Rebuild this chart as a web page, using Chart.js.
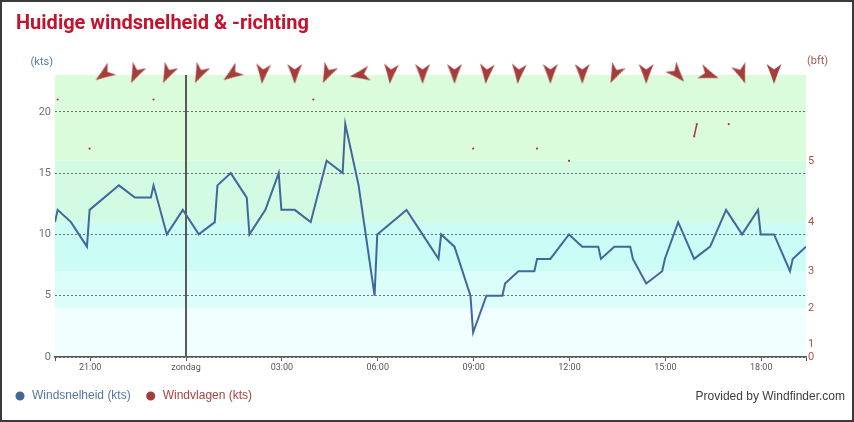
<!DOCTYPE html>
<html>
<head>
<meta charset="utf-8">
<script src="https://cdn.jsdelivr.net/npm/chart.js@4"></script>
<style>
  html, body { margin: 0; padding: 0; background: #fff; }
  #wrap { position: relative; width: 854px; height: 422px; overflow: hidden; }
  #frame { position: absolute; left: 0; top: 0; width: 854px; height: 422px; border: 2px solid #3a3a3a; box-sizing: border-box; pointer-events: none; }
  #title { position: absolute; left: 16px; top: 12px; font: bold 20px/20px Roboto, sans-serif; color: #c2132f; white-space: nowrap; }
  #credit { position: absolute; right: 9px; top: 389px; font: 12px/14px "Liberation Sans", Arial, sans-serif; color: #3d3d3d; white-space: nowrap; }
  canvas { position: absolute; left: 0; top: 0; }
</style>
</head>
<body>
<div id="wrap">
  <canvas id="windChart" width="854" height="422"></canvas>
  <div id="title">Huidige windsnelheid &amp; -richting</div>
  <div id="credit">Provided by Windfinder.com</div>
  <div id="frame"></div>
</div>
<script>
// windsnelheid (kts), zaterdagavond t/m zondag
const speedTimes = ['19:54','19:59','20:24','20:54','20:59','21:54','22:24','22:54','22:59','23:24','23:54',
  '00:24','00:54','00:59','01:24','01:54','01:59','02:29','02:54','02:59','03:24','03:54','04:24','04:54','04:59',
  '05:24','05:54','05:59','06:54','07:24','07:54','07:59','08:24','08:54','08:59','09:24','09:54','09:59',
  '10:24','10:54','10:59','11:24','11:59','12:24','12:54','12:59','13:24','13:54','13:59','14:24','14:54','14:59',
  '15:24','15:54','16:24','16:54','17:24','17:54','17:59','18:24','18:54','18:59','19:24'];
const speedKts = [11,12,11,9,12,14,13,13,14,10,12,
  10,11,14,15,13,10,12,15,12,12,11,16,15,19,
  14,5,10,12,10,8,10,9,5,2,5,5,6,
  7,7,8,8,10,9,9,8,9,9,8,6,7,8,
  11,8,9,12,10,12,10,10,7,8,9];

// windvlagen (kts), null = geen meting
const gustTimes = ['19:59','20:24','20:59','21:24','22:59','23:24','03:59','04:24','08:59','09:24',
  '10:59','11:24','11:59','12:24','15:54','15:59','16:24','16:59'];
const gustKts = [21,null,17,null,21,null,21,null,17,null,17,null,16,null,18,19,null,19];

// windrichting (graden, waar de wind vandaan komt)
const arrowTimes = ['21:24','22:24','23:24','00:24','01:24','02:24','03:24','04:24','05:24','06:24','07:24',
  '08:24','09:24','10:24','11:24','12:24','13:24','14:24','15:24','16:24','17:24','18:24'];
const arrowDirs = [55,25,25,25,55,5,0,25,80,5,0,0,5,5,0,0,25,0,318,290,340,0];

const xTickTimes = ['21:00','00:00','03:00','06:00','09:00','12:00','15:00','18:00'];
const xTickLabels = ['21:00','zondag','03:00','06:00','09:00','12:00','15:00','18:00'];
const ktsTicks = [0,5,10,15,20];
const bftTicks = [0,1,4,7,11,16];
const bftLabels = ['0','1','2','3','4','5'];
const rangeStart = '19:54';
const rangeEnd = '19:24';
const dayStart = '00:00';
const ktsMax = 23;

// times before 19:45 belong to the next day
const toHours = t => {
  const [h, m] = t.split(':').map(Number);
  const v = h + m / 60;
  return v < 19.75 ? v + 24 : v;
};

const BLUE = '#41679b';
const RED = '#a53e3a';
const BAND_COLORS = ['#f0fffe', '#f0fffe', '#dcfefb', '#cbfcf5', '#d3fbe3', '#dbfcdb'];

function makeArrow() {
  const c = document.createElement('canvas');
  c.width = 26; c.height = 26;
  const g = c.getContext('2d');
  g.fillStyle = RED;
  g.beginPath();
  g.moveTo(13, 22);
  g.quadraticCurveTo(9, 10, 5.5, 2);
  g.lineTo(13, 7.5);
  g.lineTo(20.5, 2);
  g.quadraticCurveTo(17, 10, 13, 22);
  g.closePath();
  g.fill();
  return c;
}

const bandsPlugin = {
  id: 'bands',
  beforeDraw(chart) {
    const { ctx, chartArea: a, scales: { y } } = chart;
    const edges = [...bftTicks, ktsMax];
    ctx.save();
    for (let i = 0; i < edges.length - 1; i++) {
      const y0 = y.getPixelForValue(edges[i]);
      const y1 = y.getPixelForValue(edges[i + 1]);
      ctx.fillStyle = BAND_COLORS[i];
      ctx.fillRect(a.left, y1, a.right - a.left, y0 - y1);
    }
    ctx.restore();
  }
};

const dayLinePlugin = {
  id: 'dayLine',
  beforeDatasetsDraw(chart) {
    const { ctx, chartArea: a, scales: { x } } = chart;
    const px = Math.round(x.getPixelForValue(toHours(dayStart)));
    ctx.save();
    ctx.strokeStyle = '#5a5a5a';
    ctx.lineWidth = 2;
    ctx.beginPath();
    ctx.moveTo(px, a.top);
    ctx.lineTo(px, a.bottom);
    ctx.stroke();
    ctx.restore();
  }
};

const unitsPlugin = {
  id: 'units',
  afterDraw(chart) {
    const { ctx, chartArea: a } = chart;
    ctx.save();
    ctx.font = '11px Roboto, sans-serif';
    ctx.textBaseline = 'middle';
    ctx.textAlign = 'right';
    ctx.fillStyle = '#5d7aa5';
    ctx.fillText('(kts)', a.left - 2, a.top - 13);
    ctx.textAlign = 'left';
    ctx.fillStyle = '#9d5a55';
    ctx.fillText('(bft)', a.right + 1, a.top - 14);
    ctx.restore();
  }
};

new Chart(document.getElementById('windChart'), {
  type: 'line',
  data: {
    datasets: [
      {
        label: 'Windsnelheid (kts)',
        data: speedTimes.map((t, i) => ({ x: toHours(t), y: speedKts[i] })),
        borderColor: BLUE,
        backgroundColor: BLUE,
        borderWidth: 2,
        pointRadius: 0,
        tension: 0,
        yAxisID: 'y'
      },
      {
        label: 'Windvlagen (kts)',
        data: gustTimes.map((t, i) => ({ x: toHours(t), y: gustKts[i] })),
        borderColor: RED,
        backgroundColor: RED,
        borderWidth: 1.5,
        pointRadius: 1.1,
        pointBorderWidth: 0,
        spanGaps: false,
        tension: 0,
        yAxisID: 'y'
      },
      {
        label: 'richting',
        data: arrowTimes.map(t => ({ x: toHours(t), y: ktsMax })),
        showLine: false,
        pointStyle: makeArrow(),
        pointRotation: arrowDirs,
        pointRadius: 10,
        clip: false,
        yAxisID: 'y'
      }
    ]
  },
  options: {
    responsive: false,
    animation: false,
    events: [],
    layout: { padding: { left: 0, right: 0, top: 75, bottom: 10 } },
    scales: {
      x: {
        type: 'linear',
        min: toHours(rangeStart),
        max: toHours(rangeEnd),
        afterBuildTicks: s => {
          s.ticks = [s.min, ...xTickTimes.map(toHours), s.max].map(value => ({ value }));
        },
        afterFit: s => { s.height = 19; },
        ticks: {
          autoSkip: false,
          maxRotation: 0,
          padding: 1,
          color: '#555',
          font: { family: 'Roboto', size: 9 },
          callback: (v, i, ticks) => (i === 0 || i === ticks.length - 1) ? '' : xTickLabels[i - 1]
        },
        grid: { drawOnChartArea: false, drawTicks: true, tickLength: 4, color: '#555' },
        border: { display: true, color: '#555', width: 1.5 }
      },
      y: {
        position: 'left',
        min: 0,
        max: ktsMax,
        afterBuildTicks: s => { s.ticks = ktsTicks.map(value => ({ value })); },
        afterFit: s => { s.width = 55; },
        ticks: { padding: 4, color: '#6a6f78', font: { family: 'Roboto', size: 11 } },
        grid: { drawTicks: false, color: '#6e6e6e', lineWidth: 1 },
        border: { display: false, dash: [2, 2] }
      },
      bft: {
        position: 'right',
        min: 0,
        max: ktsMax,
        afterBuildTicks: s => { s.ticks = bftTicks.map(value => ({ value })); },
        afterFit: s => { s.width = 48; },
        ticks: {
          padding: 2,
          color: '#a7524d',
          font: { family: 'Roboto', size: 11 },
          callback: (v, i) => bftLabels[i]
        },
        grid: { display: false, drawTicks: false },
        border: { display: false }
      }
    },
    plugins: {
      tooltip: { enabled: false },
      legend: {
        position: 'bottom',
        align: 'start',
        labels: {
          usePointStyle: true,
          boxHeight: 5,
          padding: 14,
          font: { family: '"Liberation Sans", Arial', size: 12 },
          filter: item => item.datasetIndex < 2,
          generateLabels: chart => Chart.defaults.plugins.legend.labels.generateLabels(chart)
            .map(l => ({ ...l, lineWidth: 2, fontColor: l.datasetIndex === 0 ? '#5575a3' : '#a5433e' }))
        }
      }
    }
  },
  plugins: [bandsPlugin, dayLinePlugin, unitsPlugin]
});
</script>
</body>
</html>
